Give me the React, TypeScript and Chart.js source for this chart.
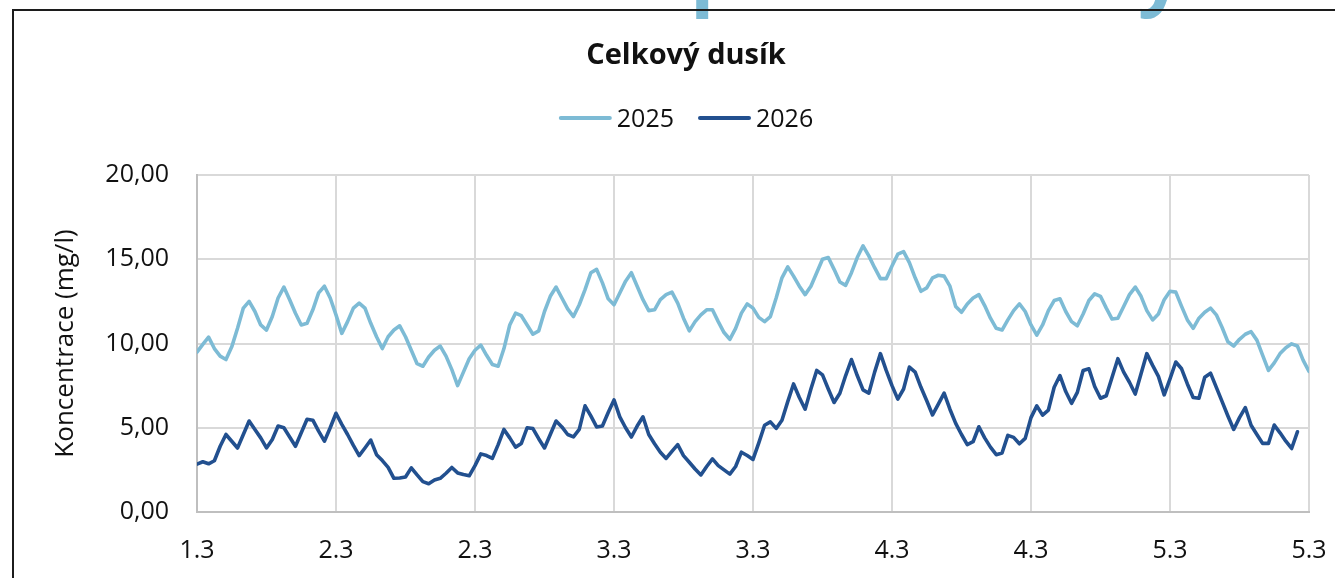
import React, { useEffect, useRef } from 'react';
import { Chart, registerables } from 'chart.js';

Chart.register(...registerables);

const TITLE = 'Celkový dusík';
const Y_TITLE = 'Koncentrace (mg/l)';
const SERIES_LABELS = ['2025', '2026'];
const SERIES_COLORS = ['#7DBBD5', '#22508F'];
const X_TICK_LABELS = ['1.3', '2.3', '2.3', '3.3', '3.3', '4.3', '4.3', '5.3', '5.3'];
const POINTS_PER_TICK = 24;

const values2025 = [
  9.49, 9.95, 10.38, 9.7, 9.25, 9.05, 9.8, 10.9, 12.1, 12.5,
  11.9, 11.1, 10.8, 11.6, 12.7, 13.35, 12.6, 11.8, 11.1, 11.2,
  12.0, 13.0, 13.4, 12.7, 11.7, 10.6, 11.3, 12.1, 12.4, 12.1,
  11.2, 10.4, 9.7, 10.4, 10.8, 11.05, 10.4, 9.6, 8.8, 8.65,
  9.2, 9.6, 9.85, 9.25, 8.45, 7.5, 8.3, 9.1, 9.6, 9.9,
  9.3, 8.75, 8.65, 9.7, 11.1, 11.8, 11.65, 11.1, 10.55, 10.75,
  11.9, 12.8, 13.35, 12.7, 12.05, 11.6, 12.3, 13.2, 14.2, 14.4,
  13.6, 12.65, 12.3, 13.0, 13.7, 14.2, 13.4, 12.6, 11.95, 12.0,
  12.6, 12.9, 13.05, 12.4, 11.5, 10.75, 11.3, 11.7, 12.0, 12.0,
  11.3, 10.65, 10.25, 10.9, 11.8, 12.35, 12.1, 11.55, 11.3, 11.6,
  12.7, 13.9, 14.55, 14.0, 13.4, 12.9, 13.4, 14.2, 15.0, 15.1,
  14.4, 13.65, 13.45, 14.2, 15.1, 15.8, 15.2, 14.5, 13.85, 13.85,
  14.6, 15.3, 15.45, 14.8, 13.9, 13.1, 13.3, 13.9, 14.05, 14.0,
  13.4, 12.2, 11.85, 12.35, 12.7, 12.9, 12.25, 11.5, 10.9, 10.8,
  11.4, 11.95, 12.35, 11.9, 11.1, 10.5, 11.1, 11.95, 12.55, 12.65,
  11.9, 11.3, 11.05, 11.75, 12.55, 12.95, 12.8, 12.1, 11.45, 11.5,
  12.2, 12.9, 13.35, 12.8, 11.95, 11.4, 11.75, 12.6, 13.1, 13.05,
  12.2, 11.4, 10.9, 11.5, 11.85, 12.1, 11.7, 10.95, 10.1, 9.85,
  10.25, 10.55, 10.7, 10.2, 9.3, 8.4, 8.85, 9.4, 9.75, 9.98,
  9.85, 9.0, 8.35,
];

const values2026 = [
  2.84, 2.98, 2.86, 3.04, 3.9, 4.6, 4.2, 3.8, 4.6, 5.4,
  4.9, 4.4, 3.8, 4.3, 5.1, 5.0, 4.45, 3.9, 4.7, 5.5,
  5.45, 4.8, 4.2, 5.0, 5.86, 5.2, 4.6, 3.95, 3.35, 3.8,
  4.27, 3.4, 3.05, 2.65, 2.0, 2.02, 2.08, 2.62, 2.2, 1.8,
  1.68, 1.9, 2.0, 2.3, 2.64, 2.32, 2.22, 2.15, 2.75, 3.45,
  3.35, 3.18, 4.0, 4.9, 4.4, 3.85, 4.07, 5.0, 4.95, 4.35,
  3.8, 4.6, 5.4, 5.05, 4.6, 4.46, 4.9, 6.3, 5.7, 5.05,
  5.1, 5.9, 6.65, 5.65, 5.0, 4.45, 5.1, 5.65, 4.6, 4.05,
  3.55, 3.18, 3.6, 4.0, 3.35, 2.95, 2.55, 2.2, 2.7, 3.15,
  2.75, 2.5, 2.25, 2.7, 3.55, 3.35, 3.12, 4.1, 5.15, 5.35,
  4.96, 5.45, 6.55, 7.6, 6.8, 6.1, 7.3, 8.4, 8.14, 7.3,
  6.5, 7.05, 8.1, 9.05, 8.1, 7.25, 7.05, 8.3, 9.4, 8.4,
  7.5, 6.7, 7.3, 8.6, 8.3, 7.4, 6.6, 5.76, 6.4, 7.05,
  6.1, 5.26, 4.6, 4.0, 4.17, 5.06, 4.4, 3.85, 3.4, 3.5,
  4.55, 4.43, 4.05, 4.37, 5.6, 6.3, 5.75, 6.05, 7.4, 8.1,
  7.15, 6.45, 7.1, 8.4, 8.5, 7.45, 6.75, 6.9, 8.0, 9.1,
  8.3, 7.7, 7.0, 8.2, 9.4, 8.7, 8.05, 6.95, 7.9, 8.9,
  8.5, 7.6, 6.8, 6.75, 8.0, 8.24, 7.4, 6.55, 5.7, 4.9,
  5.6, 6.2, 5.15, 4.6, 4.07, 4.07, 5.16, 4.7, 4.2, 3.77,
  4.76,
];

const FONT = "'Open Sans', 'Noto Sans', sans-serif";
const TEXT_COLOR = '#111111';

const headerPlugin = {
  id: 'headerAndLegend',
  afterDraw(chart: any) {
    const ctx = chart.ctx as CanvasRenderingContext2D;
    const centerX = 686;
    ctx.save();

    // cut-off heading text above the chart frame (only its descenders show)
    ctx.fillStyle = '#7DBBD5';
    ctx.font = `bold 80px ${FONT}`;
    ctx.textAlign = 'left';
    ctx.textBaseline = 'alphabetic';
    ctx.fillText('p', 690, 0);
    ctx.fillText('y', 1138, 0);

    ctx.fillStyle = TEXT_COLOR;
    ctx.font = `bold 29px ${FONT}`;
    ctx.textAlign = 'center';
    ctx.fillText(TITLE, centerX, 64);

    ctx.font = `25px ${FONT}`;
    const lineLen = 53;
    const textGap = 5;
    const itemGap = 24;
    const items = chart.data.datasets.map((ds: any) => ({
      label: ds.label,
      color: ds.borderColor,
      w: lineLen + textGap + ctx.measureText(ds.label).width,
    }));
    const total = items.reduce((a: number, b: any) => a + b.w, 0) + itemGap * (items.length - 1);
    let x = centerX - total / 2;
    const ly = 118;
    ctx.textAlign = 'left';
    for (const it of items) {
      ctx.strokeStyle = it.color;
      ctx.lineWidth = 4;
      ctx.lineCap = 'round';
      ctx.beginPath();
      ctx.moveTo(x + 2, ly);
      ctx.lineTo(x + lineLen - 2, ly);
      ctx.stroke();
      ctx.fillStyle = TEXT_COLOR;
      ctx.fillText(it.label, x + lineLen + textGap, ly + 9);
      x += it.w + itemGap;
    }
    ctx.restore();
  },
};

export default function App() {
  const canvasRef = useRef<HTMLCanvasElement | null>(null);

  useEffect(() => {
    const canvas = canvasRef.current;
    if (!canvas) return;
    const seriesValues = [values2025, values2026];
    const chart = new Chart(canvas, {
      type: 'line',
      data: {
        datasets: seriesValues.map((vals, k) => ({
          label: SERIES_LABELS[k],
          data: vals.map((v, i) => ({ x: i, y: v })),
          borderColor: SERIES_COLORS[k],
          backgroundColor: SERIES_COLORS[k],
          borderWidth: 3.6,
          pointRadius: 0,
          pointHoverRadius: 0,
          tension: 0,
          borderJoinStyle: 'round' as const,
          borderCapStyle: 'round' as const,
          fill: false,
        })),
      },
      options: {
        responsive: false,
        maintainAspectRatio: false,
        animation: false,
        events: [],
        layout: { padding: { left: 0, top: 175, right: 26, bottom: 0 } },
        plugins: {
          legend: { display: false },
          title: { display: false },
          tooltip: { enabled: false },
        },
        scales: {
          x: {
            type: 'linear',
            min: 0,
            max: (X_TICK_LABELS.length - 1) * POINTS_PER_TICK,
            afterFit: (scale: any) => {
              scale.height = 66;
              scale.paddingLeft = 0;
              scale.paddingRight = 0;
            },
            ticks: {
              stepSize: POINTS_PER_TICK,
              autoSkip: false,
              maxRotation: 0,
              padding: 24,
              color: TEXT_COLOR,
              font: { family: FONT, size: 25 },
              callback: (value: any) => X_TICK_LABELS[Math.round(Number(value) / POINTS_PER_TICK)] ?? '',
            },
            grid: { color: '#d9d9d9', lineWidth: 2, drawTicks: false },
            border: { display: true, color: '#bfbfbf', width: 2 },
          },
          y: {
            min: 0,
            max: 20,
            afterFit: (scale: any) => {
              scale.width = 197;
              scale.paddingTop = 0;
              scale.paddingBottom = 0;
            },
            ticks: {
              stepSize: 5,
              padding: 28,
              color: TEXT_COLOR,
              font: { family: FONT, size: 25 },
              callback: (value: any) => Number(value).toFixed(2).replace('.', ','),
            },
            grid: { color: '#d9d9d9', lineWidth: 2, drawTicks: false },
            border: { display: true, color: '#bfbfbf', width: 2 },
            title: {
              display: true,
              text: Y_TITLE,
              color: TEXT_COLOR,
              font: { family: FONT, size: 26 },
              padding: { top: 50, bottom: 0 },
            },
          },
        },
      },
      plugins: [headerPlugin],
    });
    return () => chart.destroy();
  }, []);

  return (
    <div style={{ position: 'fixed', left: 0, top: 0, width: 1335, height: 578, overflow: 'hidden', background: '#fff' }}>
      <canvas ref={canvasRef} width={1335} height={578} style={{ position: 'absolute', left: 0, top: 0, width: 1335, height: 578 }} />
      <div
        style={{
          position: 'absolute',
          left: 12,
          top: 9,
          width: 1500,
          height: 800,
          borderLeft: '2px solid #1c1c1c',
          borderTop: '2px solid #1c1c1c',
          pointerEvents: 'none',
        }}
      />
    </div>
  );
}
